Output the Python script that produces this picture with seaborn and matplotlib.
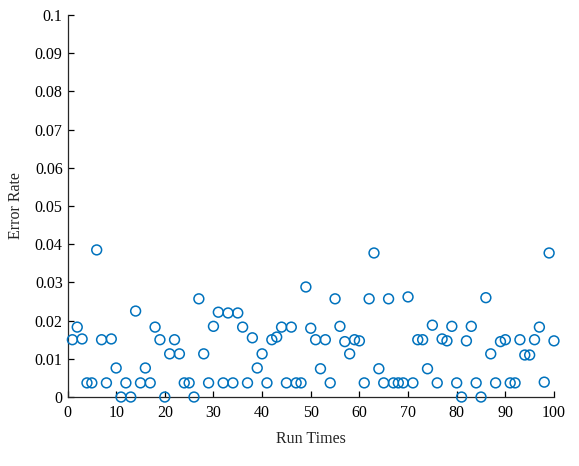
import matplotlib
matplotlib.use("Agg")
import matplotlib.pyplot as plt
import seaborn as sns
import numpy as np
import pandas as pd

run_times = list(range(1, 101))
error_rate = [
    0.0150, 0.0183, 0.0152, 0.0037, 0.0037, 0.0385, 0.0150, 0.0037, 0.0152, 0.0076,
    0.0000, 0.0037, 0.0000, 0.0225, 0.0037, 0.0076, 0.0037, 0.0183, 0.0150, 0.0000,
    0.0113, 0.0150, 0.0113, 0.0037, 0.0037, 0.0000, 0.0257, 0.0113, 0.0037, 0.0185,
    0.0222, 0.0037, 0.0220, 0.0037, 0.0220, 0.0183, 0.0037, 0.0155, 0.0076, 0.0113,
    0.0037, 0.0150, 0.0157, 0.0183, 0.0037, 0.0183, 0.0037, 0.0037, 0.0288, 0.0180,
    0.0150, 0.0074, 0.0150, 0.0037, 0.0257, 0.0185, 0.0145, 0.0113, 0.0150, 0.0147,
    0.0037, 0.0257, 0.0377, 0.0074, 0.0037, 0.0257, 0.0037, 0.0037, 0.0037, 0.0262,
    0.0037, 0.0150, 0.0150, 0.0074, 0.0188, 0.0037, 0.0152, 0.0147, 0.0185, 0.0037,
    0.0000, 0.0147, 0.0185, 0.0037, 0.0000, 0.0260, 0.0113, 0.0037, 0.0145, 0.0150,
    0.0037, 0.0037, 0.0150, 0.0110, 0.0110, 0.0150, 0.0183, 0.0039, 0.0377, 0.0147,
]
x_ticks = [0, 10, 20, 30, 40, 50, 60, 70, 80, 90, 100]
y_ticks = [0, 0.01, 0.02, 0.03, 0.04, 0.05, 0.06, 0.07, 0.08, 0.09, 0.1]
y_tick_labels = ["0", "0.01", "0.02", "0.03", "0.04", "0.05", "0.06", "0.07", "0.08", "0.09", "0.1"]

df = pd.DataFrame({"Run Times": run_times, "Error Rate": error_rate})

sns.set_style("ticks")
plt.rcParams["font.family"] = ["Liberation Serif", "DejaVu Serif"]

fig = plt.figure(figsize=(5.79, 4.66), dpi=100)
ax = fig.add_axes([0.1166, 0.148, 0.8402, 0.820])

sns.scatterplot(data=df, x="Run Times", y="Error Rate", ax=ax, marker="o",
                s=50, facecolors="none", edgecolor="#0072BD", linewidth=1.1,
                clip_on=False, zorder=3)

ax.set_xlim(0, 100)
ax.set_ylim(0, 0.1)
ax.set_xticks(x_ticks)
ax.set_xticklabels([str(t) for t in x_ticks])
ax.set_yticks(y_ticks)
ax.set_yticklabels(y_tick_labels)
ax.tick_params(direction="in", length=4, width=0.9, labelsize=11.5, colors="black")
ax.tick_params(axis="x", pad=6)
ax.set_xlabel("Run Times", fontsize=11.5, labelpad=7)
ax.set_ylabel("Error Rate", fontsize=11.5, labelpad=8)
for s in ["top", "right"]:
    ax.spines[s].set_visible(False)
for s in ["left", "bottom"]:
    ax.spines[s].set_linewidth(0.9)
    ax.spines[s].set_color("#262626")

fig.savefig("out.png", dpi=100)
